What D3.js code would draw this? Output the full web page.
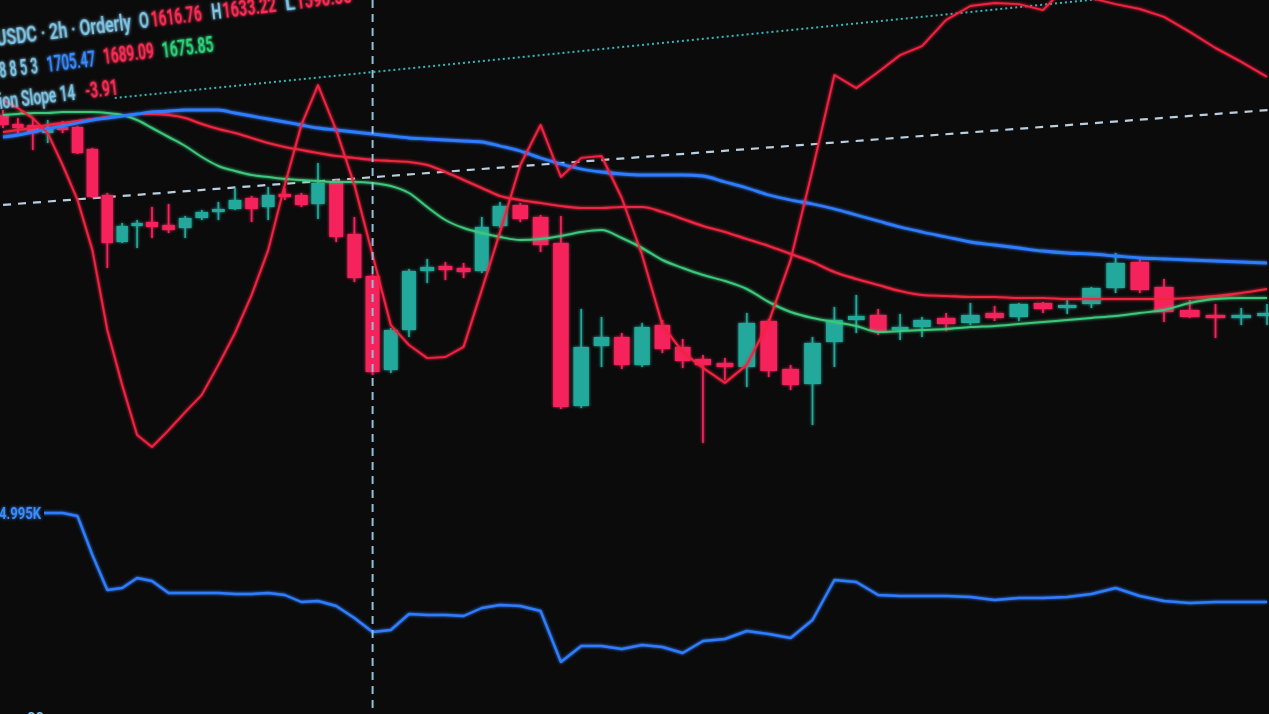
<!DOCTYPE html>
<html>
<head>
<meta charset="utf-8">
<script src="https://cdn.jsdelivr.net/npm/d3@7"></script>
<style>
  html, body { margin: 0; padding: 0; background: #0b0b0b; overflow: hidden; }
  svg { display: block; }
  text { white-space: pre; }
</style>
</head>
<body>
<div id="chart"></div>
<script>
// 2h candles, ETH/USDC on Orderly
const open = [1694.0, 1690.4, 1690.0, 1686.8, 1689.2, 1689.2, 1680.4, 1662.0, 1643.2, 1649.6,
  1651.2, 1650.0, 1648.8, 1652.8, 1655.6, 1656.4, 1660.8, 1657.2, 1662.4, 1662.0,
  1658.4, 1667.2, 1646.4, 1629.6, 1592.0, 1608.0, 1631.6, 1633.6, 1632.8, 1631.6,
  1649.6, 1658.0, 1653.2, 1642.8, 1577.6, 1601.6, 1605.2, 1594.0, 1610.0, 1601.2,
  1596.4, 1594.8, 1593.2, 1611.6, 1592.4, 1586.4, 1603.2, 1612.0, 1614.0, 1608.4,
  1609.2, 1612.8, 1610.8, 1614.8, 1613.2, 1618.8, 1617.2, 1618.4, 1624.8, 1635.2,
  1625.2, 1616.0, 1614.0, 1613.2, 1613.6];
const high = [1696.0, 1692.8, 1692.8, 1692.0, 1691.6, 1689.6, 1680.8, 1662.8, 1650.8, 1652.0,
  1657.2, 1658.4, 1653.6, 1656.0, 1659.2, 1664.8, 1661.6, 1665.2, 1664.8, 1662.8,
  1674.8, 1668.0, 1653.2, 1630.4, 1608.8, 1632.4, 1636.4, 1635.2, 1634.8, 1653.2,
  1659.2, 1658.8, 1654.0, 1653.6, 1616.4, 1613.2, 1606.8, 1610.8, 1612.0, 1604.4,
  1598.0, 1596.8, 1614.8, 1612.4, 1594.0, 1605.2, 1617.2, 1622.0, 1616.4, 1614.4,
  1613.2, 1614.8, 1618.8, 1617.6, 1618.8, 1619.2, 1620.0, 1625.2, 1638.8, 1636.4,
  1628.4, 1620.0, 1618.4, 1616.8, 1618.4];
const low = [1688.8, 1686.8, 1680.0, 1682.8, 1686.8, 1678.4, 1660.8, 1632.8, 1642.8, 1640.8,
  1644.8, 1646.8, 1644.8, 1652.0, 1652.0, 1656.0, 1651.2, 1652.0, 1660.0, 1657.2,
  1652.4, 1643.2, 1627.2, 1590.0, 1590.8, 1605.2, 1626.8, 1628.0, 1628.8, 1630.8,
  1648.8, 1651.2, 1639.2, 1576.4, 1576.8, 1593.2, 1592.4, 1593.2, 1598.8, 1592.8,
  1562.8, 1588.0, 1585.2, 1589.2, 1584.0, 1570.0, 1593.2, 1606.8, 1606.0, 1604.0,
  1605.2, 1607.6, 1610.0, 1611.6, 1611.6, 1614.8, 1614.4, 1616.8, 1622.8, 1622.8,
  1611.2, 1612.8, 1604.8, 1610.0, 1610.0];
const close = [1690.0, 1688.8, 1686.8, 1688.8, 1688.0, 1678.8, 1661.2, 1642.8, 1649.6, 1650.8,
  1649.2, 1648.0, 1652.8, 1655.2, 1656.4, 1660.0, 1656.4, 1662.0, 1661.6, 1658.0,
  1666.8, 1645.2, 1628.8, 1591.2, 1608.0, 1631.6, 1633.2, 1632.0, 1631.2, 1649.2,
  1657.6, 1652.4, 1642.0, 1577.2, 1601.2, 1605.2, 1594.0, 1609.2, 1600.4, 1595.6,
  1594.0, 1593.2, 1610.8, 1591.6, 1586.0, 1602.8, 1612.0, 1613.6, 1607.6, 1609.2,
  1612.0, 1610.4, 1614.0, 1612.8, 1618.4, 1616.4, 1618.0, 1624.8, 1634.8, 1624.0,
  1615.2, 1613.2, 1612.8, 1614.0, 1614.8];

// moving averages (price units)
const maBlue = [1685.2, 1686.0, 1687.2, 1688.4, 1689.6, 1690.8, 1692.0, 1692.8, 1693.6, 1694.4,
  1695.2, 1695.6, 1696.0, 1696.0, 1696.0, 1694.8, 1693.6, 1692.4, 1691.2, 1690.0,
  1688.8, 1688.0, 1687.2, 1686.4, 1685.6, 1684.8, 1684.4, 1684.0, 1683.6, 1683.2,
  1681.6, 1679.6, 1676.8, 1674.4, 1672.4, 1671.2, 1670.4, 1670.0, 1670.0, 1670.0,
  1669.6, 1667.2, 1664.8, 1662.0, 1660.0, 1658.4, 1656.4, 1654.0, 1651.6, 1649.2,
  1647.2, 1645.2, 1643.2, 1642.0, 1640.8, 1639.6, 1638.8, 1638.4, 1637.6, 1636.8,
  1636.4, 1636.0, 1635.6, 1635.2, 1634.8];
const maRed = [1687.2, 1688.0, 1688.8, 1690.0, 1690.8, 1691.6, 1692.4, 1693.2, 1693.6, 1694.4,
  1694.4, 1694.0, 1692.8, 1690.4, 1688.4, 1686.8, 1684.8, 1682.8, 1681.2, 1680.0,
  1678.8, 1677.6, 1676.8, 1676.0, 1675.6, 1675.2, 1674.0, 1671.2, 1668.0, 1664.8,
  1661.6, 1660.0, 1658.8, 1657.6, 1656.8, 1656.8, 1657.2, 1657.2, 1655.2, 1652.4,
  1649.6, 1647.2, 1644.4, 1641.6, 1638.4, 1635.2, 1631.2, 1628.4, 1626.0, 1623.6,
  1622.0, 1621.6, 1621.2, 1621.2, 1620.8, 1620.8, 1620.4, 1620.4, 1620.4, 1620.4,
  1620.4, 1620.8, 1621.6, 1622.8, 1624.4];
const maGreen = [1694.0, 1694.4, 1694.8, 1694.8, 1695.2, 1695.2, 1695.2, 1694.8, 1694.0, 1692.0,
  1688.8, 1685.2, 1681.6, 1677.2, 1673.6, 1671.6, 1670.0, 1669.2, 1668.4, 1668.0,
  1667.6, 1667.2, 1667.2, 1666.8, 1665.6, 1662.8, 1657.2, 1652.0, 1648.8, 1646.8,
  1645.2, 1644.0, 1644.4, 1645.6, 1647.2, 1648.0, 1644.8, 1640.8, 1636.0, 1632.8,
  1630.0, 1627.6, 1624.4, 1619.2, 1615.2, 1612.8, 1611.2, 1609.6, 1607.2, 1607.6,
  1608.0, 1608.4, 1609.2, 1609.6, 1610.4, 1611.2, 1612.0, 1612.8, 1613.6, 1614.8,
  1616.0, 1618.8, 1620.4, 1620.8, 1620.8];

// linear regression slope 14 (own scale)
const slope = [3.33, 3.12, 2.85, 2.45, 1.60, 0.67, -0.67, -2.80, -4.27, -5.60,
  -5.92, -5.47, -4.99, -4.53, -3.73, -2.88, -1.87, -0.67, 1.07, 2.67,
  3.73, 2.53, 1.07, -0.80, -2.67, -3.20, -3.55, -3.52, -3.25, -1.73,
  -0.19, 1.60, 2.67, 1.28, 1.79, 1.84, 0.72, -0.80, -2.67, -3.39,
  -3.81, -4.21, -3.73, -2.59, -0.93, 1.47, 4.00, 3.65, 4.08, 4.53,
  4.77, 5.47, 5.84, 5.92, 5.89, 5.73, 6.40, 6.05, 5.89, 5.76,
  5.55, 5.15, 4.72, 4.35, 3.95];

// lower pane indicator (thousands)
const lower = [4.995, 4.995, 4.995, 4.995, 4.995, 4.935, 4.155, 3.455, 3.495, 3.695,
  3.635, 3.395, 3.395, 3.395, 3.395, 3.375, 3.375, 3.395, 3.355, 3.215,
  3.235, 3.135, 2.895, 2.615, 2.655, 2.975, 2.955, 2.955, 2.935, 3.095,
  3.155, 3.135, 3.035, 2.015, 2.335, 2.335, 2.275, 2.355, 2.315, 2.195,
  2.435, 2.475, 2.635, 2.575, 2.495, 2.855, 3.655, 3.615, 3.355, 3.335,
  3.335, 3.335, 3.315, 3.255, 3.295, 3.295, 3.315, 3.375, 3.495, 3.335,
  3.235, 3.195, 3.215, 3.215, 3.215];

// drawings: [bar index, price]
const trendDashed = [[-1, 1657.6], [65.5, 1697.1]];
const trendDotted = [[7.5, 1700.8], [64.1, 1747.2]];
const crosshairBar = 23;

// legend text, one array per row: [text, colour]
const headerRow1 = [["USDC · 2h · Orderly", "label"], ["O", "label"], ["1616.76", "red"], ["H", "label"], ["1633.22", "red"], ["L", "label"], ["1590.38", "red"]];
const headerRow2 = [["8 8 5 3", "label"], ["1705.47", "blue"], ["1689.09", "red"], ["1675.85", "green"]];
const headerRow3 = [["ion Slope 14", "label"], ["-3.91", "red"]];
const lowerLabel = "4.995K";
const timeLabel = "00";

const COLORS = {
  up: "#22a99b",
  down: "#f5245b",
  label: "#80c6e6",
  red: "#ff2d55",
  blue: "#3b8cff",
  green: "#2fd67c",
};

const width = 1269;
const height = 714;

const svg = d3.select("#chart").append("svg")
  .attr("width", width)
  .attr("height", height)
  .style("background", "#0b0b0b");

const defs = svg.append("defs");
const glow = defs.append("filter").attr("id", "glow")
  .attr("x", "-20%").attr("y", "-20%").attr("width", "140%").attr("height", "140%");
glow.append("feGaussianBlur").attr("in", "SourceGraphic").attr("stdDeviation", 1.6).attr("result", "blur");
const merge = glow.append("feMerge");
merge.append("feMergeNode").attr("in", "blur");
merge.append("feMergeNode").attr("in", "SourceGraphic");

// the photo is taken at an angle, bars get wider to the right
const bars = d3.range(open.length);
const x = d3.scaleLinear()
  .domain([0, 10, 20, 30, 40, 50, 60, 64])
  .range([3, 152, 318, 500, 703, 922, 1164, 1267]);
const y = d3.scaleLinear().domain([1740, 1560]).range([0, 450]);
const ySlope = d3.scaleLinear().domain([6, -6]).range([0, 450]);
const yLower = d3.scaleLinear().domain([4.995, 1.995]).range([513, 663]);

const barWidth = (i) => (x(i + 0.5) - x(i - 0.5)) * 0.76;

// drawings
const seg = d3.line().x((d) => x(d[0])).y((d) => y(d[1]));
svg.append("path")
  .attr("d", seg(trendDashed))
  .attr("fill", "none")
  .attr("stroke", "#b9cfe0")
  .attr("stroke-width", 2.2)
  .attr("stroke-dasharray", "8 7");
svg.append("path")
  .attr("d", seg(trendDotted))
  .attr("fill", "none")
  .attr("stroke", "#34b7b9")
  .attr("stroke-width", 2)
  .attr("stroke-dasharray", "2 3");

// candles
const candles = svg.append("g").attr("filter", "url(#glow)");
const c = candles.selectAll("g").data(bars).enter().append("g")
  .attr("fill", (i) => (close[i] >= open[i] ? COLORS.up : COLORS.down))
  .attr("stroke", (i) => (close[i] >= open[i] ? COLORS.up : COLORS.down));
c.append("line")
  .attr("x1", (i) => x(i)).attr("x2", (i) => x(i))
  .attr("y1", (i) => y(high[i])).attr("y2", (i) => y(low[i]))
  .attr("stroke-width", 1.7);
c.append("rect")
  .attr("x", (i) => x(i) - barWidth(i) / 2)
  .attr("width", barWidth)
  .attr("y", (i) => y(Math.max(open[i], close[i])))
  .attr("height", (i) => Math.max(3, Math.abs(y(open[i]) - y(close[i]))))
  .attr("stroke", "none");

// indicator lines
const lines = svg.append("g").attr("fill", "none").attr("filter", "url(#glow)");
const maLine = (vals) => d3.line().curve(d3.curveMonotoneX).x((d, i) => x(i)).y((d) => y(d))(vals);
lines.append("path").attr("d", maLine(maGreen)).attr("stroke", "#3cc77a").attr("stroke-width", 2);
lines.append("path").attr("d", maLine(maRed)).attr("stroke", "#f0263f").attr("stroke-width", 2.2);
lines.append("path").attr("d", maLine(maBlue)).attr("stroke", "#2f7dff").attr("stroke-width", 2.8);
lines.append("path")
  .attr("d", d3.line().x((d, i) => x(i)).y((d) => ySlope(d))(slope))
  .attr("stroke", "#f3203f")
  .attr("stroke-width", 2)
  .attr("stroke-linejoin", "round");
lines.append("path")
  .attr("d", d3.line().x((d, i) => x(i)).y((d) => yLower(d))(lower))
  .attr("stroke", "#2f7dff")
  .attr("stroke-width", 2.4)
  .attr("stroke-linejoin", "round");

// crosshair
svg.append("line")
  .attr("x1", x(crosshairBar)).attr("x2", x(crosshairBar))
  .attr("y1", 0).attr("y2", height)
  .attr("stroke", "#8fc0d8")
  .attr("stroke-width", 2)
  .attr("stroke-dasharray", "8 6");

const fontFamily = "Roboto, 'Noto Sans', sans-serif";

// lower pane value tag
const tag = svg.append("g").attr("transform", `translate(0,${yLower(lower[0])})`);
tag.append("rect").attr("x", 0).attr("y", -10).attr("width", 44).attr("height", 20).attr("fill", "#0b0b0b");
tag.append("text")
  .attr("x", -1).attr("y", 6)
  .attr("textLength", 42).attr("lengthAdjust", "spacingAndGlyphs")
  .attr("fill", COLORS.blue)
  .attr("filter", "url(#glow)")
  .style("font-family", fontFamily)
  .style("font-size", "16px")
  .style("font-weight", 600)
  .text(lowerLabel);

// time scale label, cut by the bottom edge
svg.append("text")
  .attr("x", 27).attr("y", 723)
  .attr("fill", COLORS.label)
  .style("font-family", fontFamily)
  .style("font-size", "15px")
  .style("font-weight", 600)
  .text(timeLabel);

// legend, tilted like the photo; [start, width] of each piece along its row, px
const headerRows = [
  { parts: headerRow1, x0: 0, boxes: [[0, 136], [144, 10], [156, 51], [217, 10], [228, 54], [291, 10], [302, 56]] },
  { parts: headerRow2, x0: -1, boxes: [[0, 39], [48, 49], [105, 51], [164, 52]] },
  { parts: headerRow3, x0: -5, boxes: [[0, 77], [87, 33]] },
];
const header = svg.append("g")
  .attr("transform", "translate(-3,46) rotate(-7)")
  .attr("filter", "url(#glow)")
  .style("font-family", fontFamily)
  .style("font-size", "22px")
  .style("font-weight", 600);
headerRows.forEach((row, li) => {
  row.parts.forEach(([txt, col], k) => {
    const [start, w] = row.boxes[k];
    header.append("text")
      .attr("x", row.x0 + start)
      .attr("y", li * 31.5)
      .attr("textLength", w)
      .attr("lengthAdjust", "spacingAndGlyphs")
      .attr("fill", COLORS[col])
      .text(txt);
  });
});
</script>
</body>
</html>
